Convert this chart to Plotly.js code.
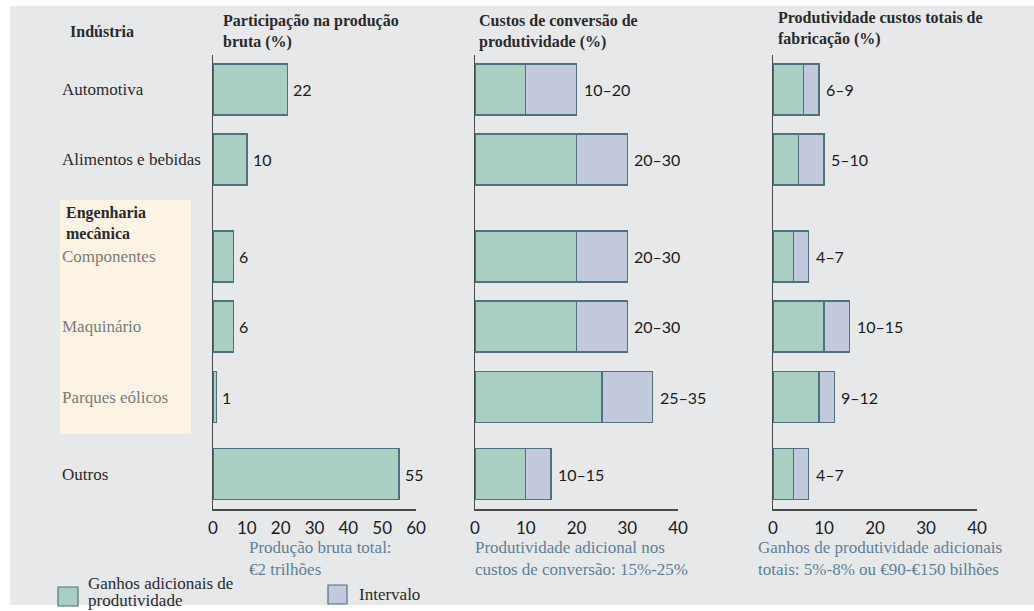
<!DOCTYPE html>
<html>
<head>
<meta charset="utf-8">
<script src="https://cdn.plot.ly/plotly-3.0.1.min.js"></script>
<style>html,body{margin:0;padding:0;background:#fff;}#chart{width:1034px;height:611px;}</style>
</head>
<body>
<div id="chart"></div>
<script>
// ---------- data ----------
const categories = ['Automotiva', 'Alimentos e bebidas', 'Componentes', 'Maquinário', 'Parques eólicos', 'Outros'];
const engineeringGroup = ['Componentes', 'Maquinário', 'Parques eólicos'];
const groupTitle = 'Engenharia<br>mecânica';
const industryHeader = 'Indústria';
const grossShare = [22, 10, 6, 6, 1, 55];
const convLow = [10, 20, 20, 20, 25, 10];
const convHigh = [20, 30, 30, 30, 35, 15];
const totalLow = [6, 5, 4, 10, 9, 4];
const totalHigh = [9, 10, 7, 15, 12, 7];
const ticksShare = [0, 10, 20, 30, 40, 50, 60];
const ticksProd = [0, 10, 20, 30, 40];
const panelTitles = ['Participação na produção<br>bruta (%)', 'Custos de conversão de<br>produtividade (%)', 'Produtividade custos totais de<br>fabricação (%)'];
const panelNotes = ['Produção bruta total:<br>€2 trilhões', 'Produtividade adicional nos<br>custos de conversão: 15%-25%', 'Ganhos de produtividade adicionais<br>totais: 5%-8% ou €90-€150 bilhões'];
const legendNames = ['Ganhos adicionais de<br>produtividade', 'Intervalo'];

// ---------- layout constants ----------
const W = 1034, H = 611;
const px = v => v / W, py = v => 1 - v / H;
const rowY = [89.5, 159.5, 256.5, 326.5, 397, 474];   // row centres on the y scale
const barH = 51;
const GREEN = '#a9cfc3', LAV = '#c3c9dd', EDGE = '#52717f', AXIS = '#4a4a4a';
const SERIF = 'Liberation Serif, Times New Roman, serif';
const SANS = 'Lato, Open Sans, sans-serif';
const yDom = [py(509), py(55)];
const xDoms = [[px(213), px(416)], [px(475), px(678)], [px(773), px(977)]];

const barStyle = c => ({color: c, line: {color: EDGE, width: 1.4}});
const diff = (a, b) => a.map((v, i) => v - b[i]);

const traces = [
  {type: 'bar', orientation: 'h', x: grossShare, y: rowY, width: barH, xaxis: 'x', yaxis: 'y', marker: barStyle(GREEN)},
  {type: 'bar', orientation: 'h', x: convLow, y: rowY, width: barH, xaxis: 'x2', yaxis: 'y2', marker: barStyle(GREEN)},
  {type: 'bar', orientation: 'h', x: diff(convHigh, convLow), y: rowY, width: barH, xaxis: 'x2', yaxis: 'y2', marker: barStyle(LAV)},
  {type: 'bar', orientation: 'h', x: totalLow, y: rowY, width: barH, xaxis: 'x3', yaxis: 'y3', marker: barStyle(GREEN)},
  {type: 'bar', orientation: 'h', x: diff(totalHigh, totalLow), y: rowY, width: barH, xaxis: 'x3', yaxis: 'y3', marker: barStyle(LAV)}
];

const xAxis = (dom, max, ticks, anchor) => ({
  domain: dom, range: [0, max], anchor: anchor, showline: true, linecolor: AXIS, linewidth: 1.5,
  showgrid: false, zeroline: false, ticks: '', tickvals: ticks, ticktext: ticks.map(String),
  tickfont: {family: SANS, size: 17, color: '#1a1a1a'}, ticklabelstandoff: 3, fixedrange: true
});
const yAxis = anchor => ({
  domain: yDom, range: [509, 55], anchor: anchor, showline: true, linecolor: AXIS, linewidth: 1.5,
  showgrid: false, zeroline: false, showticklabels: false, ticks: '', fixedrange: true
});

const ann = [];
// value labels
grossShare.forEach((v, i) => ann.push({xref: 'x', yref: 'y', x: v, y: rowY[i], text: String(v), xanchor: 'left', xshift: 4, showarrow: false, font: {family: SANS, size: 16, color: '#1a1a1a'}}));
convHigh.forEach((v, i) => ann.push({xref: 'x2', yref: 'y2', x: v, y: rowY[i], text: convLow[i] + '–' + v, xanchor: 'left', xshift: 5, showarrow: false, font: {family: SANS, size: 16, color: '#1a1a1a'}}));
totalHigh.forEach((v, i) => ann.push({xref: 'x3', yref: 'y3', x: v, y: rowY[i], text: totalLow[i] + '–' + v, xanchor: 'left', xshift: 5, showarrow: false, font: {family: SANS, size: 16, color: '#1a1a1a'}}));
// category labels
categories.forEach((c, i) => ann.push({xref: 'paper', yref: 'y', x: px(60), y: rowY[i], text: c, xanchor: 'left', yanchor: 'middle', showarrow: false,
  font: {family: SERIF, size: 17, color: engineeringGroup.includes(c) ? '#7b7b7b' : '#2a2a2a'}}));
// headers
ann.push({xref: 'paper', yref: 'paper', x: px(68), y: py(32), text: '<b>' + industryHeader + '</b>', xanchor: 'left', yanchor: 'middle', showarrow: false, font: {family: SERIF, size: 16, color: '#2a2a2a'}});
ann.push({xref: 'paper', yref: 'paper', x: px(64), y: py(223), text: '<b>' + groupTitle + '</b>', xanchor: 'left', yanchor: 'middle', align: 'left', showarrow: false, font: {family: SERIF, size: 16, color: '#2a2a2a'}});
const titleX = [221, 477, 776], titleY = [31, 31, 28];
panelTitles.forEach((t, i) => ann.push({xref: 'paper', yref: 'paper', x: px(titleX[i]), y: py(titleY[i]), text: '<b>' + t + '</b>', xanchor: 'left', yanchor: 'middle', align: 'left', showarrow: false, font: {family: SERIF, size: 16, color: '#2a2a2a'}}));
const noteX = [247, 473, 756];
panelNotes.forEach((t, i) => ann.push({xref: 'paper', yref: 'paper', x: px(noteX[i]), y: py(558), text: t, xanchor: 'left', yanchor: 'middle', align: 'left', showarrow: false, font: {family: SERIF, size: 17, color: '#5f8096'}}));
// legend
const legLines = legendNames[0].split('<br>');
const legLineY = [583, 600];
legLines.forEach((t, i) => ann.push({xref: 'paper', yref: 'paper', x: px(86), y: py(legLineY[i]), text: t, xanchor: 'left', yanchor: 'middle', showarrow: false, font: {family: SERIF, size: 17, color: '#2a2a2a'}}));
ann.push({xref: 'paper', yref: 'paper', x: px(357), y: py(594), text: legendNames[1], xanchor: 'left', yanchor: 'middle', showarrow: false, font: {family: SERIF, size: 17, color: '#2a2a2a'}});

const shapes = [
  {type: 'rect', xref: 'paper', yref: 'paper', x0: px(10), x1: 1, y0: py(605), y1: py(6), fillcolor: '#e7e8ea', line: {width: 0}, layer: 'below'},
  {type: 'rect', xref: 'paper', yref: 'paper', x0: px(60), x1: px(191), y0: py(434), y1: py(200), fillcolor: '#fdf4e5', line: {width: 0}, layer: 'below'},
  {type: 'rect', xref: 'paper', yref: 'paper', x0: px(58), x1: px(78), y0: py(606), y1: py(587), fillcolor: GREEN, line: {color: EDGE, width: 1.2}},
  {type: 'rect', xref: 'paper', yref: 'paper', x0: px(328), x1: px(347), y0: py(604), y1: py(585), fillcolor: LAV, line: {color: EDGE, width: 1.2}}
];

const layout = {
  width: W, height: H, margin: {l: 0, r: 0, t: 0, b: 0},
  paper_bgcolor: '#ffffff', plot_bgcolor: 'rgba(0,0,0,0)',
  barmode: 'stack', showlegend: false,
  xaxis: xAxis(xDoms[0], 60, ticksShare, 'y'),
  xaxis2: xAxis(xDoms[1], 40, ticksProd, 'y2'),
  xaxis3: xAxis(xDoms[2], 40, ticksProd, 'y3'),
  yaxis: yAxis('x'), yaxis2: yAxis('x2'), yaxis3: yAxis('x3'),
  annotations: ann, shapes: shapes
};
Plotly.newPlot('chart', traces, layout, {displayModeBar: false, staticPlot: true});
</script>
</body>
</html>
